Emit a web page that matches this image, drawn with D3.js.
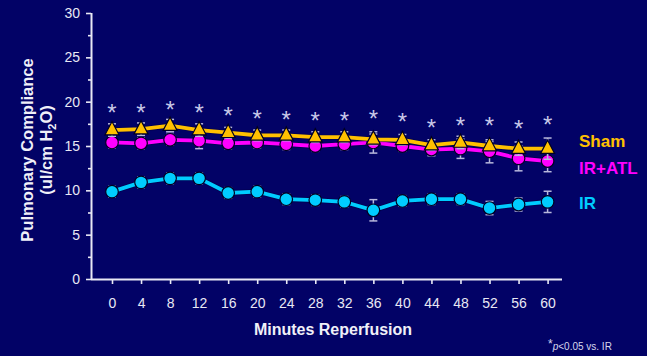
<!DOCTYPE html>
<html><head><meta charset="utf-8">
<script src="https://cdn.jsdelivr.net/npm/d3@7"></script>
<style>
html,body{margin:0;padding:0;background:#020266;}
svg{display:block;font-family:"Liberation Sans",Arial,sans-serif;}
</style></head>
<body>
<svg id="c" width="647" height="356"></svg>
<script>
const minutes = [0,4,8,12,16,20,24,28,32,36,40,44,48,52,56,60];
const sham    = [16.8,16.9,17.3,16.8,16.5,16.2,16.2,16.0,16.0,15.75,15.7,15.1,15.4,15.0,14.7,14.7];
const shamErr = [0.7,0.7,0.7,0.7,0.6,0.6,0.6,0.6,0.6,0.6,0.6,0.6,0.7,0.5,0.75,1.2];
const atl     = [15.4,15.3,15.7,15.6,15.3,15.4,15.2,15.0,15.2,15.4,15.0,14.6,14.7,14.4,13.6,13.3];
const atlErr  = [0.6,0.6,0.6,0.9,0.6,0.6,0.6,0.6,0.6,1.2,0.6,0.7,1.1,1.3,1.4,1.2];
const ir      = [9.85,10.9,11.35,11.35,9.7,9.85,9.0,8.9,8.7,7.75,8.8,9.0,9.0,8.0,8.4,8.7];
const irErr   = [0.6,0.6,0.6,0.6,0.6,0.6,0.6,0.6,0.6,1.2,0.6,0.6,0.6,0.75,0.73,1.2];
const starPos = [19.06,19.06,19.43,19.06,18.7,18.4,18.3,18.2,18.2,18.4,18.0,17.4,17.6,17.6,17.3,17.7];
const yTicks  = [0,5,10,15,20,25,30];
const seriesNames = ["Sham","IR+ATL","IR"];
const seriesColors = ["#FFC000","#FF00FF","#00CCFF"];

const svg = d3.select("#c");
const x = d3.scaleLinear().domain([0,60]).range([112,547.6]);
const y = d3.scaleLinear().domain([0,30]).range([279,13]);
const axisCol = "#e8e8f4";
const errCol = "#b8b8dc";

// axes
const ya = svg.append("g").attr("transform","translate(91,0)")
  .call(d3.axisLeft(y).tickValues(yTicks).tickSize(5).tickPadding(6).tickSizeOuter(0));
const yminor = svg.append("g").attr("transform","translate(91,0)")
  .call(d3.axisLeft(y).tickValues(yTicks.slice(0,-1).map(v=>v+2.5)).tickSize(3).tickFormat("").tickSizeOuter(0));
yminor.select(".domain").remove();
const xa = svg.append("g").attr("transform","translate(0,279)")
  .call(d3.axisBottom(x).tickValues(minutes).tickSize(5).tickPadding(14).tickSizeOuter(0));
xa.select(".domain").attr("d","M91,0.5H562");
[ya,yminor,xa].forEach(g=>{
  g.selectAll("path,line").attr("stroke",axisCol).attr("stroke-width",1.6);
  g.selectAll("text").attr("fill",axisCol).attr("font-size",14).attr("font-family","Liberation Sans, Arial, sans-serif");
});
ya.select(".domain").attr("d","M0.5,13V279.5").attr("stroke-width",2);
xa.select(".domain").attr("stroke-width",2);

// titles
svg.append("text").attr("x",333).attr("y",335).attr("text-anchor","middle")
  .attr("fill","#f0f0f8").attr("font-weight","bold").attr("font-size",16).text("Minutes Reperfusion");
const yt = svg.append("text").attr("transform","translate(33,150) rotate(-90)")
  .attr("text-anchor","middle").attr("fill","#f0f0f8").attr("font-weight","bold").attr("font-size",16.5);
yt.append("tspan").attr("x",0).attr("dy",0).text("Pulmonary Compliance");
const t2 = yt.append("tspan").attr("x",0).attr("dy",19).text("(ul/cm H");
yt.append("tspan").attr("font-size",11).attr("dy",4).text("2");
yt.append("tspan").attr("dy",-4).text("O)");

const data = [
  {name:"Sham", vals:sham, err:shamErr, color:seriesColors[0], shape:"tri"},
  {name:"IR+ATL", vals:atl, err:atlErr, color:seriesColors[1], shape:"circ"},
  {name:"IR", vals:ir, err:irErr, color:seriesColors[2], shape:"circ"}
];
const line = d3.line().x((d,i)=>x(minutes[i])).y(d=>y(d));

[data[2],data[1],data[0]].forEach(s=>{
  const g = svg.append("g");
  s.vals.forEach((v,i)=>{
    const cx = x(minutes[i]);
    const top = y(v+s.err[i]), bot = y(v-s.err[i]);
    g.append("line").attr("x1",cx).attr("x2",cx).attr("y1",top).attr("y2",bot).attr("stroke",errCol).attr("stroke-width",1.5);
    g.append("line").attr("x1",cx-4).attr("x2",cx+4).attr("y1",top).attr("y2",top).attr("stroke",errCol).attr("stroke-width",1.5);
    g.append("line").attr("x1",cx-4).attr("x2",cx+4).attr("y1",bot).attr("y2",bot).attr("stroke",errCol).attr("stroke-width",1.5);
  });
  g.append("path").attr("d",line(s.vals)).attr("fill","none").attr("stroke","#000040").attr("stroke-width",5.5).attr("stroke-opacity",0.5);
  g.append("path").attr("d",line(s.vals)).attr("fill","none").attr("stroke",s.color).attr("stroke-width",3.8);
  s.vals.forEach((v,i)=>{
    const cx = x(minutes[i]), cy = y(v);
    if(s.shape==="circ"){
      g.append("circle").attr("cx",cx).attr("cy",cy).attr("r",6.3).attr("fill",s.color).attr("stroke","#000022").attr("stroke-width",1.2);
    } else {
      g.append("path").attr("d",`M${cx},${cy-8.5}L${cx+7},${cy+4.8}L${cx-7},${cy+4.8}Z`).attr("fill",s.color).attr("stroke","#000022").attr("stroke-width",1.2);
    }
  });
});

// stars
svg.append("g").selectAll("text").data(starPos).join("text")
  .attr("x",(d,i)=>x(minutes[i])).attr("y",d=>y(d)+11).attr("text-anchor","middle")
  .attr("fill","#c8c8e8").attr("font-size",24).text("*");

// legend labels
const legY = [141,168,203];
seriesNames.forEach((n,i)=>{
  svg.append("text").attr("x",579).attr("y",legY[i]).attr("dominant-baseline","central")
    .attr("fill",seriesColors[i]).attr("font-weight","bold").attr("font-size",17).text(n);
});

// footnote
const fn = svg.append("text").attr("x",548).attr("y",350).attr("fill","#d8d8ec").attr("font-size",10);
fn.append("tspan").attr("font-size",12).attr("dy",-2).text("*");
fn.append("tspan").attr("font-style","italic").attr("dy",2).text("p");
fn.append("tspan").text("<0.05 vs. IR");
</script>
</body></html>
